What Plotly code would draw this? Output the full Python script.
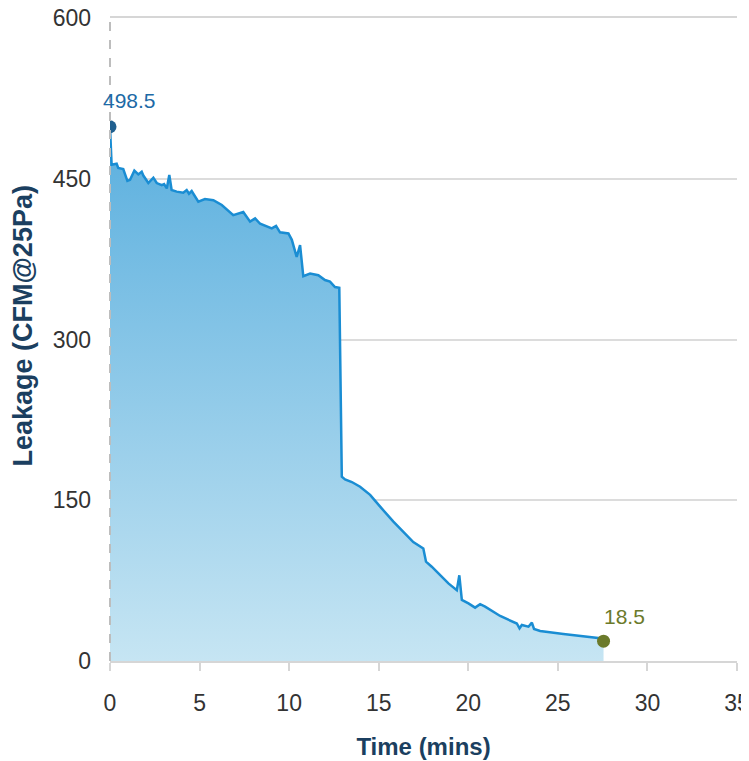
import plotly.graph_objects as go

time_mins = [0.0, 0.09, 0.37, 0.46, 0.74, 0.97, 1.12, 1.36, 1.58, 1.77, 1.86, 2.14, 2.42, 2.61, 2.89,
             3.02, 3.17, 3.31, 3.44, 3.72, 4.09, 4.28, 4.41, 4.56, 4.93, 5.30, 5.77, 6.24, 6.88,
             7.44, 7.82, 8.10, 8.38, 9.03, 9.27, 9.49, 9.96, 10.15, 10.42, 10.61, 10.79, 11.17,
             11.63, 12.00, 12.28, 12.56, 12.80, 12.94, 13.12, 13.50, 13.96, 14.52, 15.08, 15.82,
             16.93, 17.31, 17.49, 17.64, 17.96, 18.89, 19.36, 19.50, 19.64, 20.01, 20.38, 20.66,
             20.94, 21.78, 22.71, 22.86, 22.99, 23.36, 23.55, 23.67, 24.01, 25.31, 26.62, 27.36,
             27.55]
leakage = [498.5, 463, 464, 460, 459, 448, 449, 457.5, 454, 456.5, 453, 446, 451, 446, 444,
           445, 441, 453.5, 439.5, 438, 437, 439.5, 436, 438.5, 428.6, 431, 430, 425.5, 416,
           419, 410, 413, 408, 403.7, 406, 400, 399, 393, 377, 388, 359, 361.6,
           360, 355.5, 354, 349, 348.3, 172, 169.5, 167, 162.6, 155, 144, 130,
           111, 106.7, 105, 92.7, 88, 72.4, 66, 80, 57, 53.8, 49.8, 53,
           50.7, 42, 35, 30.5, 33.6, 32, 35.8, 29.9, 28, 25.2, 22.7, 21.2,
           18.5]

x_ticks = [0, 5, 10, 15, 20, 25, 30, 35]
y_ticks = [0, 150, 300, 450, 600]

FONT = "Liberation Sans, Arial, sans-serif"

fig = go.Figure()
fig.add_trace(go.Scatter(
    x=time_mins, y=leakage, mode="lines",
    line=dict(color="#1a8dd3", width=2.5),
    fill="tozeroy",
    fillgradient=dict(type="vertical",
                      colorscale=[[0, "#c6e5f3"], [1, "#5eb1df"]],
                      start=0, stop=480),
    hoverinfo="skip", showlegend=False,
))
fig.add_trace(go.Scatter(
    x=[time_mins[0]], y=[leakage[0]], mode="markers",
    marker=dict(color="#1f5f8f", size=13), showlegend=False,
))
fig.add_trace(go.Scatter(
    x=[time_mins[-1]], y=[leakage[-1]], mode="markers",
    marker=dict(color="#6b7a2b", size=13), showlegend=False,
))

fig.add_annotation(x=time_mins[0], y=leakage[0], text=f"{leakage[0]}", showarrow=False,
                   xanchor="center", yanchor="bottom", xshift=19, yshift=13,
                   font=dict(family=FONT, size=21, color="#1d6aa6"))
fig.add_annotation(x=time_mins[-1], y=leakage[-1], text=f"{leakage[-1]}", showarrow=False,
                   xanchor="center", yanchor="bottom", xshift=21, yshift=11,
                   font=dict(family=FONT, size=21, color="#6b7a2b"))
# y-axis title as rotated text
fig.add_annotation(xref="paper", yref="paper", x=0, y=0.5, xshift=-88, yshift=13,
                   text="<b>Leakage (CFM@25Pa)</b>", textangle=-90, showarrow=False,
                   xanchor="center", yanchor="middle",
                   font=dict(family=FONT, size=27, color="#1b3f60"))

fig.add_shape(type="line", xref="paper", yref="paper", x0=0, x1=0, y0=0, y1=1,
              line=dict(color="#bdbdbd", width=2, dash="dash"), layer="above")

fig.update_layout(
    width=749, height=753,
    margin=dict(l=102, r=20, t=10, b=100, autoexpand=False),
    paper_bgcolor="white", plot_bgcolor="white",
    font=dict(family=FONT, size=23, color="#333333"),
    xaxis=dict(range=[0, 35], tickvals=x_ticks, showgrid=False, zeroline=False,
               showline=True, mirror=True, linecolor="#d6d6d6", linewidth=2,
               ticks="outside", ticklen=8, tickcolor="#d6d6d6", tickwidth=2,
               ticklabelstandoff=12, ticklabeloverflow="allow", automargin=False,
               tickfont=dict(size=23, color="#333333"),
               title=dict(text="<b>Time (mins)</b>", standoff=24,
                          font=dict(family=FONT, size=24, color="#1b3f60"))),
    yaxis=dict(range=[0, 600], tickvals=y_ticks, showgrid=True, gridcolor="#dcdcdc",
               gridwidth=2, zeroline=False, showline=False, ticklabelstandoff=18,
               ticklabeloverflow="allow", automargin=False,
               tickfont=dict(size=23, color="#333333")),
)

fig.write_html("out.html")
